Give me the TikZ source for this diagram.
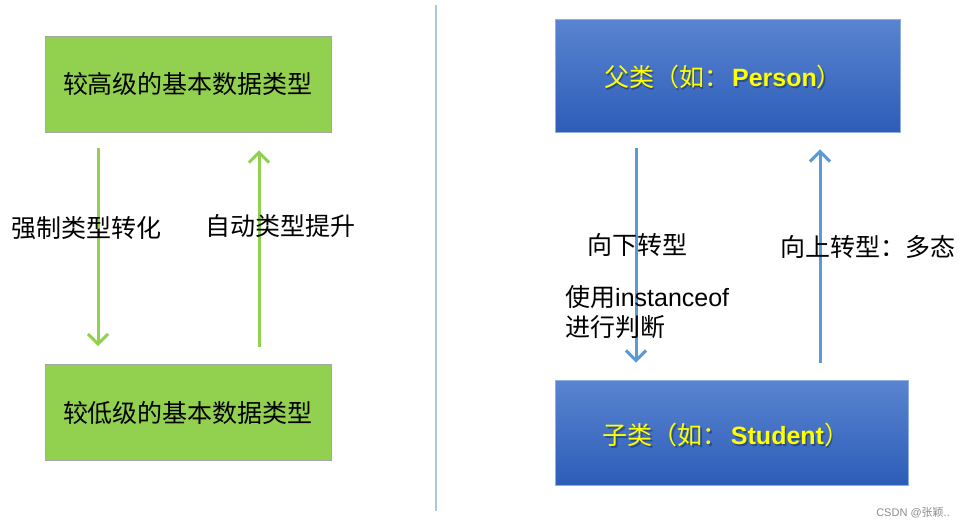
\documentclass[tikz,border=0pt]{standalone}
\usepackage{fontspec}
\setmainfont{Liberation Sans}
\newfontfamily\cjk{Noto Sans CJK SC}
\usetikzlibrary{arrows.meta}
\definecolor{gfill}{HTML}{92D050}
\definecolor{gline}{HTML}{92D050}
\definecolor{bline}{HTML}{5B9BD5}
\definecolor{btop}{HTML}{5A84D0}
\definecolor{bbot}{HTML}{2C5DB8}
\definecolor{bborder}{HTML}{8FB0E0}
\definecolor{divider}{HTML}{A9C6E6}
\definecolor{wm}{HTML}{8C8C8C}
\definecolor{ytxt}{HTML}{FFFF00}
\tikzset{
  gbox/.style={draw=black!35, line width=0.8pt, fill=gfill, minimum width=286pt, minimum height=96pt, inner sep=0pt,
    font=\cjk\fontsize{25}{30}\selectfont},
  bbox/.style={draw=bborder, line width=0.8pt, top color=btop, bottom color=bbot, inner sep=0pt},
  btext/.style={text=ytxt, inner sep=0pt, font=\fontsize{25}{28}\selectfont},
  bshadow/.style={text=black, opacity=0.3, inner sep=0pt, font=\fontsize{25}{28}\selectfont},
  lbl/.style={inner sep=0pt, font=\cjk\fontsize{25}{30}\selectfont},
  garrow/.style={draw=gline, line width=3pt, -{Straight Barb[length=10pt,width=20pt]}},
  barrow/.style={draw=bline, line width=3pt, -{Straight Barb[length=10pt,width=20pt]}},
}
\newcommand{\partext}{{\cjk 父类（如：}\hspace{3pt}{\bfseries Person}{\cjk ）}}
\newcommand{\chitext}{{\cjk 子类（如：}\hspace{3pt}{\bfseries Student}{\cjk ）}}
\begin{document}
\begin{tikzpicture}[x=1pt,y=-1pt]
\useasboundingbox[fill=white] (0,0) rectangle (962,531);

% left side
\node[gbox] (hi) at (188,84) {较高级的基本数据类型};
\node[gbox] (lo) at (188,412.5) {较低级的基本数据类型};
\draw[garrow] ([xshift=-90pt,yshift=-16pt]hi.south) -- ([xshift=-90pt,yshift=18pt]lo.north);
\draw[garrow] ([xshift=71pt,yshift=17pt]lo.north) -- ([xshift=71pt,yshift=-18pt]hi.south);
\node[lbl] (force) at (87,228) {强制类型转化};
\node[lbl] (auto) at (280,226) {自动类型提升};

% divider
\coordinate (d1) at (436,5);
\coordinate (d2) at (436,511);
\draw[divider, line width=1.5pt] (d1) -- (d2);

% right side
\node[bbox, minimum width=345pt, minimum height=113pt] (par) at (727.5,75.5) {};
\node[bshadow] (parsh) at (724.5,79) {\partext};
\node[btext] (part) at (723,77) {\partext};
\node[bbox, minimum width=353pt, minimum height=105pt] (chi) at (731.5,432.5) {};
\node[bshadow] (chish) at (727.5,437) {\chitext};
\node[btext] (chit) at (726,435) {\chitext};

\draw[barrow] ([xshift=-91.5pt,yshift=-16pt]par.south) -- ([xshift=-95.5pt,yshift=17pt]chi.north);
\draw[barrow] ([xshift=88.5pt,yshift=17pt]chi.north) -- ([xshift=92.5pt,yshift=-17pt]par.south);

\node[lbl] (down) at (637,245) {向下转型};
\node[lbl] (up) at (867.5,247) {向上转型：多态};
\node[lbl, anchor=west, align=left] (inst) at (565,312) {使用{\fontspec{Liberation Sans}instanceof}\\进行判断};

% watermark
\node[text=wm, anchor=east, inner sep=0pt, font=\fontsize{11}{13}\selectfont] (wmk) at (950,513) {CSDN @{\cjk 张颖}..};
\end{tikzpicture}
\end{document}
